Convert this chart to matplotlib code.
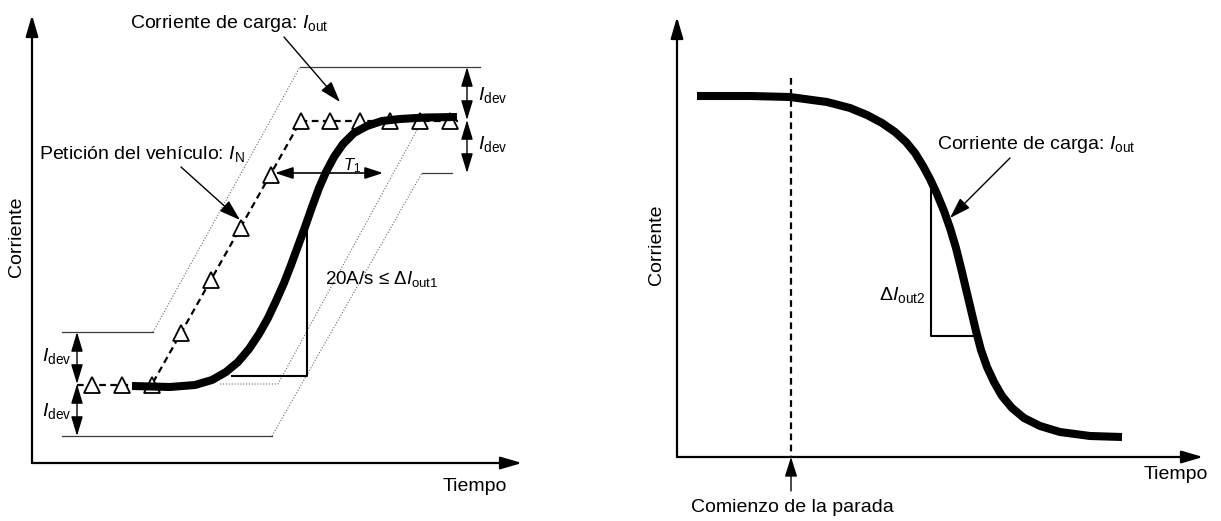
import matplotlib.pyplot as plt

plt.rcParams['font.family'] = ['Liberation Sans', 'DejaVu Sans']
plt.rcParams['mathtext.fontset'] = 'custom'
plt.rcParams['mathtext.rm'] = 'Liberation Sans'
plt.rcParams['mathtext.it'] = 'Liberation Sans:italic'

# all values in reference pixel units (time -> right, current -> up, y axis inverted)

# left panel: start of charging
req_t = [92, 121.8, 151.6, 181.4, 211.2, 241, 270.8, 300.6, 330.4, 360.2, 390, 419.8, 449.6]
req_i = [385, 385, 385, 333, 280, 228, 175, 121, 121, 121, 121, 121, 121]
req_line_t = [77, 151.6, 300.6, 458]
req_line_i = [385, 385, 121, 121]

out1_t = [132, 170, 195, 212, 226, 238, 249, 259, 268, 276, 284, 291, 298, 305, 312, 319,
          326, 334, 343, 354, 367, 382, 400, 425, 457]
out1_i = [386, 387, 385, 380, 372, 362, 349, 334, 318, 301, 283, 265, 246, 227, 207, 188,
          172, 157, 144, 133, 126, 121, 119, 117.5, 117]

upper_band_t = [62, 153, 300, 480]
upper_band_i = [332, 332, 67, 67]
lower_band_t = [62, 272, 422, 452]
lower_band_i = [436, 436, 173, 173]
shift_band_t = [220, 278, 417]
shift_band_i = [384, 384, 130]

slope1_t = [232, 307, 307]
slope1_i = [376, 376, 222]

# right panel: stop of charging
out2_t = [697, 750, 790, 827, 850, 867, 882, 895, 906, 915, 923, 930, 937, 944, 950, 956,
          961, 966, 971, 976, 981, 987, 994, 1002, 1012, 1024, 1040, 1060, 1090, 1122]
out2_i = [96, 96, 97, 102, 108, 115, 123, 132, 142, 153, 166, 179, 194, 211, 228, 248,
          268, 289, 310, 331, 350, 367, 382, 396, 408, 418, 426, 432, 436, 437]
slope2_t = [931, 931, 976]
slope2_i = [182, 336, 336]
stop_t = 791
stop_i = [78, 457]

# axes
left_axes = [(32, 463), (522, 463), (32, 15)]
right_axes = [(677, 457), (1203, 457), (677, 17)]

fig = plt.figure(figsize=(12.21, 5.21), dpi=100)
axl = fig.add_axes([0, 0, 610 / 1221, 1])
axl.set_xlim(0, 610)
axr = fig.add_axes([610 / 1221, 0, 611 / 1221, 1])
axr.set_xlim(610, 1221)
for ax in (axl, axr):
    ax.set_ylim(521, 0)
    ax.axis('off')


def arrow(ax, start, end, style='-|>', lw=1.0, hl=1.3, hw=0.4, z=5):
    ax.annotate('', xy=end, xytext=start, annotation_clip=False,
                arrowprops=dict(arrowstyle=f'{style},head_length={hl},head_width={hw}',
                                lw=lw, color='black', shrinkA=0, shrinkB=0), zorder=z)


# coordinate axes with arrow heads
for ax, (o, xe, ye) in ((axl, left_axes), (axr, right_axes)):
    arrow(ax, o, xe, lw=1.6, hl=1.3, hw=0.38)
    arrow(ax, o, ye, lw=1.6, hl=1.3, hw=0.38)

# tolerance bands
thin = dict(color='#3a3a3a', lw=0.9)
dot = dict(color='#6a6a6a', lw=0.8, ls=(0, (1, 1.6)))
for bt, bi in ((upper_band_t, upper_band_i), (lower_band_t, lower_band_i)):
    axl.plot(bt[:2], bi[:2], **thin)
    axl.plot(bt[1:3], bi[1:3], **dot)
    axl.plot(bt[2:], bi[2:], **thin)
axl.plot(shift_band_t, shift_band_i, **dot)

# vehicle request and output current
axl.plot(req_line_t, req_line_i, color='black', lw=1.6, ls=(0, (3, 2)), zorder=3)
axl.plot(req_t, req_i, ls='none', marker='^', ms=11.5, mfc='white', mec='black', mew=1.3, zorder=4)
axl.plot(slope1_t, slope1_i, color='black', lw=1.5, zorder=3)
axl.plot(out1_t, out1_i, color='black', lw=5.8, solid_capstyle='butt', solid_joinstyle='round', zorder=6)

# I_dev markers
for (a, b) in ((67, 120), (120, 173)):
    arrow(axl, (467, a), (467, b), style='<|-|>', lw=1.0, hl=1.2, hw=0.36)
for (a, b) in ((332, 384), (384, 436)):
    arrow(axl, (77, a), (77, b), style='<|-|>', lw=1.0, hl=1.2, hw=0.36)
arrow(axl, (275, 173), (383, 173), style='<|-|>', lw=1.2, hl=1.1, hw=0.36)

fs = 14
axl.text(478, 100, r'$I_{\rm dev}$', fontsize=fs, va='baseline')
axl.text(478, 149, r'$I_{\rm dev}$', fontsize=fs, va='baseline')
axl.text(42, 361, r'$I_{\rm dev}$', fontsize=fs, va='baseline')
axl.text(42, 416, r'$I_{\rm dev}$', fontsize=fs, va='baseline')
axl.text(352, 170, r'$T_{1}$', fontsize=12, va='baseline', ha='center')

axl.text(130, 28, r'Corriente de carga: $I_{\rm out}$', fontsize=fs, va='baseline')
arrow(axl, (284, 37), (340, 102), lw=1.0, hl=1.3, hw=0.42)
axl.text(39, 159, r'Petición del vehículo: $I_{\rm N}$', fontsize=fs, va='baseline')
arrow(axl, (181, 167), (240, 220), lw=1.0, hl=1.3, hw=0.42)
axl.text(325, 284, r'20A/s ≤ Δ$I_{\rm out1}$', fontsize=fs - 0.5, va='baseline')
axl.text(507, 491, 'Tiempo', fontsize=fs, va='baseline', ha='right')
axl.text(17, 237, 'Corriente', fontsize=fs, rotation=90, ha='center', va='center')

# right panel
axr.plot([stop_t, stop_t], stop_i, color='black', lw=1.6, ls=(0, (3, 2)))
axr.plot(slope2_t, slope2_i, color='black', lw=1.5, zorder=3)
axr.plot(out2_t, out2_i, color='black', lw=5.8, solid_capstyle='butt', solid_joinstyle='round', zorder=6)
axr.text(937, 149, r'Corriente de carga: $I_{\rm out}$', fontsize=fs, va='baseline')
arrow(axr, (1010, 158), (950, 218), lw=1.0, hl=1.3, hw=0.42)
axr.text(925, 300, r'Δ$I_{\rm out2}$', fontsize=fs, va='baseline', ha='right')
arrow(axr, (stop_t, 491), (stop_t, 457), lw=1.0, hl=1.2, hw=0.38)
axr.text(691, 512, 'Comienzo de la parada', fontsize=fs, va='baseline')
axr.text(1208, 479, 'Tiempo', fontsize=fs, va='baseline', ha='right')
axr.text(657, 245, 'Corriente', fontsize=fs, rotation=90, ha='center', va='center')

fig.savefig('out.png', dpi=100, facecolor='white')
